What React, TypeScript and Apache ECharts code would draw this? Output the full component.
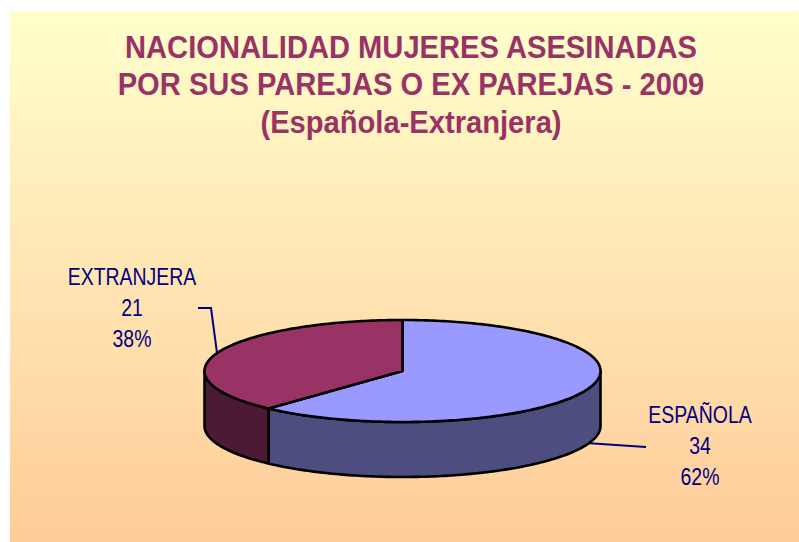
import React, { useEffect, useRef } from "react";
import * as echarts from "echarts";

const categories = ["ESPAÑOLA", "EXTRANJERA"];
const values = [34, 21];
const percents = ["62%", "38%"];
const topColors = ["#9999FF", "#993366"];
const sideColors = ["#4D4D80", "#4D1A33"];
const titleLines = [
  "NACIONALIDAD MUJERES ASESINADAS",
  "POR SUS PAREJAS O EX PAREJAS - 2009",
  "(Española-Extranjera)",
];

const CX = 402.5;
const CY = 371;
const RX = 198;
const RY = 51;
const DEPTH = 55;
const total = values.reduce((a, b) => a + b, 0);

function pt(deg: number, dy = 0): number[] {
  const r = (deg * Math.PI) / 180;
  return [CX + RX * Math.sin(r), CY - RY * Math.cos(r) + dy];
}
function arcPts(a: number, b: number, dy = 0): number[][] {
  const out: number[][] = [];
  const n = Math.max(2, Math.ceil(Math.abs(b - a)));
  for (let i = 0; i <= n; i++) out.push(pt(a + ((b - a) * i) / n, dy));
  return out;
}

export default function App() {
  const ref = useRef<HTMLDivElement>(null);
  useEffect(() => {
    document.body.style.margin = "0";
    const chart = echarts.init(ref.current!, null, { renderer: "svg" });
    const labelStyle = {
      fontFamily: "Liberation Sans",
      fontSize: 24,
      fill: "#000080",
      align: "center",
      verticalAlign: "middle",
    };
    const makeLabel = (x: number, y: number, t: string) => ({
      type: "text",
      x,
      y,
      scaleX: 0.81,
      style: { ...labelStyle, text: t },
      z: 5,
    });
    const labelAt = (i: number, x: number, ys: number[]) => [
      makeLabel(x, ys[0], categories[i]),
      makeLabel(x, ys[1], String(values[i])),
      makeLabel(x, ys[2], percents[i]),
    ];
    chart.setOption({
      animation: false,
      graphic: [
        {
          type: "rect",
          shape: { x: 10, y: 11, width: 789, height: 531 },
          style: {
            fill: new echarts.graphic.LinearGradient(0, 0, 0, 1, [
              { offset: 0, color: "#FFFFCC" },
              { offset: 1, color: "#FFCC99" },
            ]),
          },
          z: -10,
        },
        ...titleLines.map((t, i) => ({
          type: "text",
          x: 411,
          y: 47 + i * 37.5,
          scaleX: 0.94,
          style: {
            text: t,
            fontFamily: "Liberation Sans",
            fontWeight: "bold",
            fontSize: 31,
            fill: "#993366",
            align: "center",
            verticalAlign: "middle",
          },
          z: 5,
        })),
        ...labelAt(0, 700, [415, 446, 477]),
        ...labelAt(1, 132, [277, 308, 339]),
        {
          type: "polyline",
          shape: { points: [[198, 308], [211, 308], [217, 353]] },
          style: { stroke: "#000080", lineWidth: 2, fill: "none" },
          z: -5,
        },
        {
          type: "polyline",
          shape: { points: [[646, 447], [586, 443]] },
          style: { stroke: "#000080", lineWidth: 2, fill: "none" },
          z: -5,
        },
      ],
      series: [
        {
          type: "custom",
          coordinateSystem: "none",
          silent: true,
          data: values.map((v) => [v]),
          renderItem: (params: any, api: any) => {
            const i = params.dataIndex;
            const before = values.slice(0, i).reduce((a, b) => a + b, 0);
            const a0 = (before / total) * 360;
            const a1 = ((before + api.value(0)) / total) * 360;
            const lo = Math.max(a0, 90);
            const hi = Math.min(a1, 270);
            const border = { stroke: "#000", lineWidth: 2.6, lineJoin: "round" };
            const children: any[] = [];
            if (hi > lo) {
              const front = arcPts(lo, hi);
              const back = arcPts(hi, lo, DEPTH);
              children.push({
                type: "polygon",
                shape: { points: [...front, ...back] },
                style: { fill: sideColors[i], ...border },
              });
            }
            children.push({
              type: "polygon",
              shape: { points: [[CX, CY], ...arcPts(a0, a1)] },
              style: { fill: topColors[i], ...border },
            });
            return { type: "group", children };
          },
        },
      ],
    });
    return () => chart.dispose();
  }, []);
  return <div ref={ref} style={{ width: 799, height: 542 }} />;
}
